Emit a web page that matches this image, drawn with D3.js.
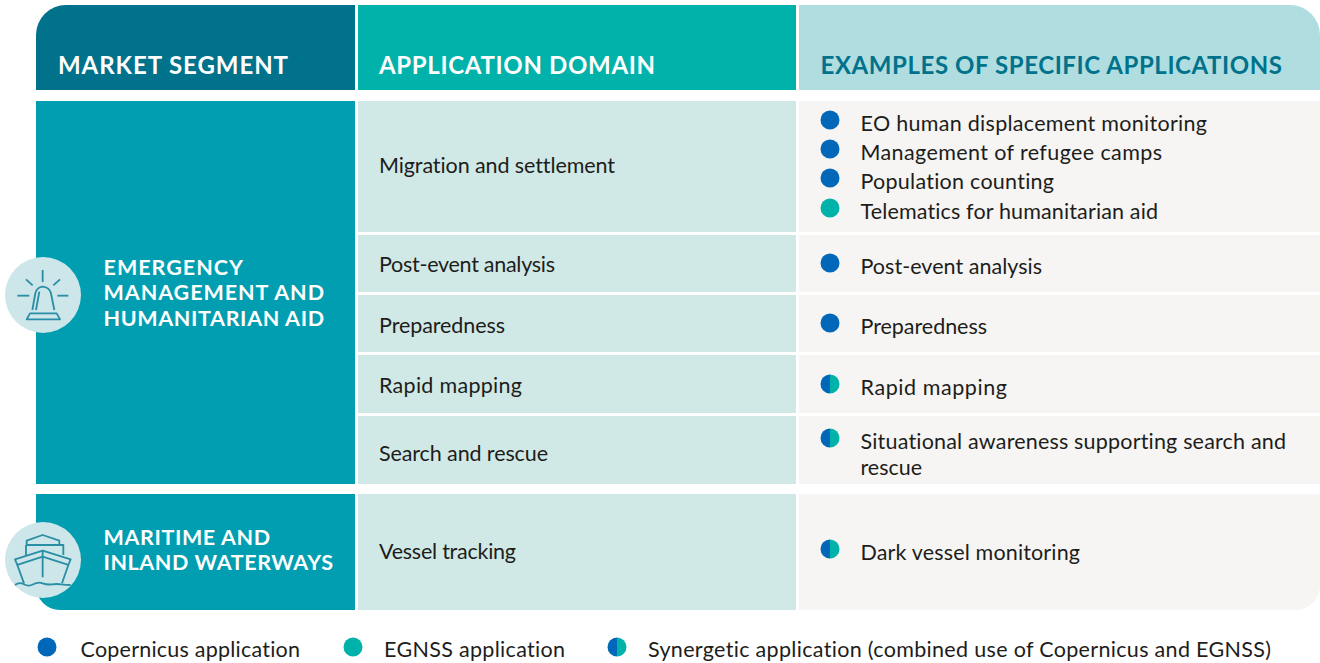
<!DOCTYPE html>
<html>
<head>
<meta charset="utf-8">
<script src="https://cdn.jsdelivr.net/npm/d3@7"></script>
<style>
  html, body { margin: 0; padding: 0; background: #fff; }
  svg { display: block; }
  text { font-family: Lato, "Open Sans", sans-serif; font-variant-ligatures: none; }
</style>
</head>
<body>
<script>
(function(){

//table content
var headers = ["MARKET SEGMENT", "APPLICATION DOMAIN", "EXAMPLES OF SPECIFIC APPLICATIONS"];
var segments = [
  ["EMERGENCY", "MANAGEMENT AND", "HUMANITARIAN AID"],
  ["MARITIME AND", "INLAND WATERWAYS"]
];
var domains = ["Migration and settlement", "Post-event analysis", "Preparedness", "Rapid mapping", "Search and rescue", "Vessel tracking"];
var examples = [
  {domain: 0, label: "EO human displacement monitoring", kind: "copernicus"},
  {domain: 0, label: "Management of refugee camps", kind: "copernicus"},
  {domain: 0, label: "Population counting", kind: "copernicus"},
  {domain: 0, label: "Telematics for humanitarian aid", kind: "egnss"},
  {domain: 1, label: "Post-event analysis", kind: "copernicus"},
  {domain: 2, label: "Preparedness", kind: "copernicus"},
  {domain: 3, label: "Rapid mapping", kind: "synergy"},
  {domain: 4, label: "Situational awareness supporting search and", kind: "synergy", more: "rescue"},
  {domain: 5, label: "Dark vessel monitoring", kind: "synergy"}
];
var legendKinds = ["copernicus", "egnss", "synergy"];
var legendLabels = ["Copernicus application", "EGNSS application", "Synergetic application (combined use of Copernicus and EGNSS)"];

//layout
var width = 1320, height = 663;
var colX = [36, 358, 799], colEnd = [355, 796, 1320];
var headerTop = 5, headerBottom = 90;
var rowTop = [101, 235, 295, 355, 416, 494];
var rowBottom = [232, 292, 352, 413, 484, 610];
var segmentTop = [101, 494], segmentBottom = [484, 610];

//text baselines and right ends
var headerX = [58, 379, 820.5], headerEnd = [288, 655, 1282];
var segmentBase = [[275, 300, 326], [545, 570]];
var segmentEnd = [[243, 324, 324], [270, 333]];
var domainBase = [172.5, 271.5, 332.5, 392.5, 460.5, 558.5];
var domainEnd = [615, 555, 505, 522, 548, 516];
var exampleBase = [130, 159, 188, 218, 273, 333, 394, 448, 559];
var exampleEnd = [1207, 1162, 1054, 1158, 1042, 987, 1007, 1286, 1080];
var legendDot = [47, 353, 617], legendText = [80.5, 384, 648], legendEnd = [300, 565, 1271];

var blue = "#0067b9", teal = "#00b2a9", ink = "#1d1d1b";
var headerFill = ["#00728c", "#00b2a9", "#b0dde0"];
var headerInk = ["#ffffff", "#ffffff", "#00728c"];

var svg = d3.select("body").append("svg")
    .attr("width", width)
    .attr("height", height);

//rectangle with its own radius on each corner
function box(x0, y0, x1, y1, tl, tr, br, bl){
  var p = d3.path();
  p.moveTo(x0 + tl, y0);
  p.lineTo(x1 - tr, y0);
  if (tr) p.arcTo(x1, y0, x1, y0 + tr, tr);
  p.lineTo(x1, y1 - br);
  if (br) p.arcTo(x1, y1, x1 - br, y1, br);
  p.lineTo(x0 + bl, y1);
  if (bl) p.arcTo(x0, y1, x0, y1 - bl, bl);
  p.lineTo(x0, y0 + tl);
  if (tl) p.arcTo(x0, y0, x0 + tl, y0, tl);
  p.closePath();
  return p.toString();
}

//application marker, half and half for synergetic ones
function marker(g, kind, cx, cy){
  if (kind == "synergy") {
    var arc = d3.arc().innerRadius(0).outerRadius(9.5);
    g.append("path").attr("transform", "translate(" + cx + "," + cy + ")")
      .attr("d", arc({startAngle: -Math.PI, endAngle: 0})).attr("fill", blue);
    g.append("path").attr("transform", "translate(" + cx + "," + cy + ")")
      .attr("d", arc({startAngle: 0, endAngle: Math.PI})).attr("fill", teal);
  } else {
    g.append("circle").attr("cx", cx).attr("cy", cy).attr("r", 9.5)
      .attr("fill", kind == "egnss" ? teal : blue);
  }
}

//text stretched to the width it has in the reference
function label(x, y, end, str, size, weight, fill){
  svg.append("text")
      .attr("x", x)
      .attr("y", y)
      .attr("font-size", size)
      .attr("font-weight", weight)
      .attr("fill", fill)
      .attr("textLength", end - x)
      .attr("lengthAdjust", "spacing")
      .text(str);
}

//header band
svg.selectAll(".head").data(headers).enter().append("path")
    .attr("class", "head")
    .attr("fill", function(d, i){ return headerFill[i]; })
    .attr("d", function(d, i){
      return box(colX[i], headerTop, colEnd[i], headerBottom, i == 0 ? 30 : 0, i == 2 ? 30 : 0, 0, 0);
    });

headers.forEach(function(d, i){
  label(headerX[i], 73.5, headerEnd[i], d, 24, 700, headerInk[i]);
});

//market segment blocks
svg.selectAll(".segment").data(segments).enter().append("path")
    .attr("class", "segment")
    .attr("fill", "#009eb0")
    .attr("d", function(d, i){
      return box(colX[0], segmentTop[i], colEnd[0], segmentBottom[i], 0, 0, 0, i == 1 ? 24 : 0);
    });

segments.forEach(function(lines, i){
  lines.forEach(function(d, j){
    label(103.5, segmentBase[i][j], segmentEnd[i][j], d, 21.5, 700, "#fff");
  });
});

//domain cells and example cells
svg.selectAll(".domain").data(domains).enter().append("rect")
    .attr("class", "domain")
    .attr("x", colX[1])
    .attr("y", function(d, i){ return rowTop[i]; })
    .attr("width", colEnd[1] - colX[1])
    .attr("height", function(d, i){ return rowBottom[i] - rowTop[i]; })
    .attr("fill", "#d0e9e6");

svg.selectAll(".exampleCell").data(domains).enter().append("path")
    .attr("class", "exampleCell")
    .attr("fill", "#f6f5f3")
    .attr("d", function(d, i){
      return box(colX[2], rowTop[i], colEnd[2], rowBottom[i], 0, 0, i == 5 ? 24 : 0, 0);
    });

domains.forEach(function(d, i){
  label(379, domainBase[i], domainEnd[i], d, 21.5, 400, ink);
});

examples.forEach(function(d, i){
  var y = exampleBase[i];
  marker(svg, d.kind, 830, y - 10);
  label(860.5, y + 0.5, exampleEnd[i], d.label, 21.5, 400, ink);
  if (d.more) label(860.5, y + 26.5, 922, d.more, 21.5, 400, ink);
});

//legend
legendKinds.forEach(function(k, i){
  marker(svg, k, legendDot[i], 647);
  label(legendText[i], 656.5, legendEnd[i], legendLabels[i], 21.5, 400, ink);
});

//icons, drawn in 3x units
var iconInk = "#2a8ea5";
var sirenPaths = [
  "M128 120V156", "M78 148L98 166", "M180 148L160 166", "M52 197H88", "M172 197H205",
  "M97 240L106 190Q110 172 128 170Q148 172 153 190L163 240",
  "M108 240L118 185", "M80 268L90 250H170L180 268Z"
];
var shipPaths = [
  "M80 135V122L128 105L178 122V135Z", "M78 135H190V165", "M78 135V165",
  "M45 178L128 152L212 178L205 195L128 170L52 195Z", "M52 195L72 250", "M205 195L186 250", "M128 152V232",
  "M45 255Q58 245 72 253T100 253T128 250T156 253T184 253T212 255"
];
[[43, 295, 230, sirenPaths], [43, 560, 500, shipPaths]].forEach(function(ic){
  svg.append("circle").attr("cx", ic[0]).attr("cy", ic[1]).attr("r", 38).attr("fill", "#cce6ea");
  svg.append("g").attr("transform", "translate(0," + ic[2] + ") scale(0.3333)")
    .selectAll("path").data(ic[3]).enter().append("path")
      .attr("d", function(d){ return d; })
      .attr("fill", "none")
      .attr("stroke", iconInk)
      .attr("stroke-width", 5.5)
      .attr("stroke-linejoin", "round");
});

})();
</script>
</body>
</html>
